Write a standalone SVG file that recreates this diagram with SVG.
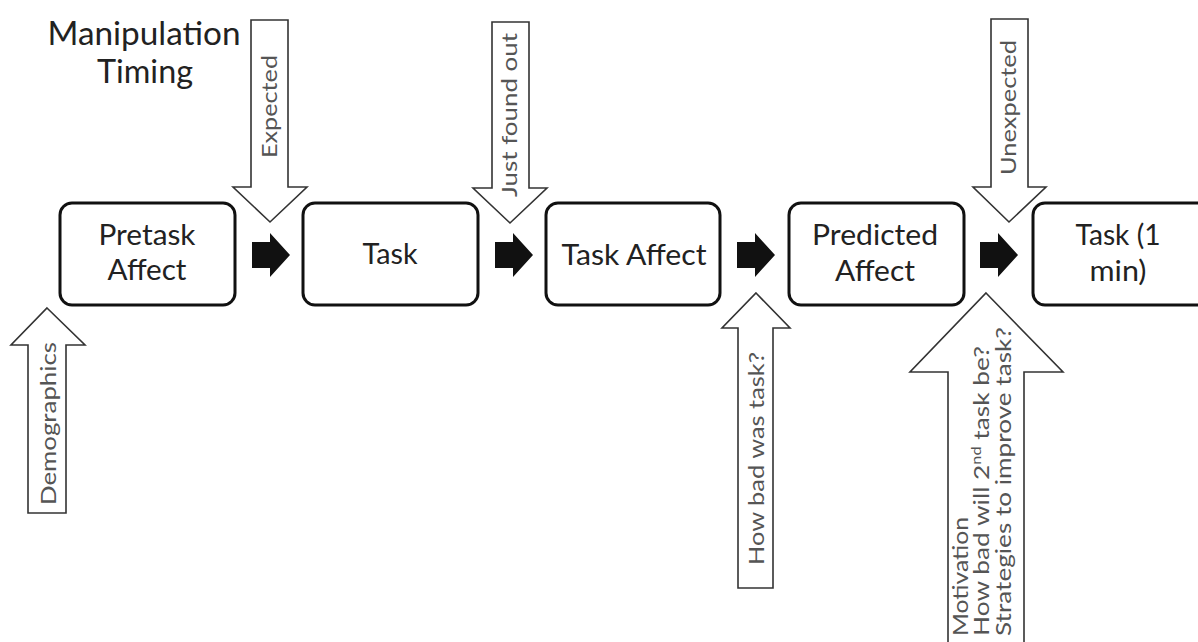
<svg xmlns="http://www.w3.org/2000/svg" width="1198" height="642" viewBox="0 0 1198 642">
<style>
.box{fill:#fff;stroke:#111;stroke-width:3}
.bt{font-family:Lato,"Liberation Sans",sans-serif;font-size:28px;fill:#222;text-anchor:middle}
.oa{fill:#fff;stroke:#333;stroke-width:1.6;stroke-linejoin:miter}
.ot{font-family:Lato,"Liberation Sans",sans-serif;font-size:21px;fill:#555}
.ba{fill:#111}
.title{font-family:Lato,"Liberation Sans",sans-serif;font-size:32px;fill:#222;text-anchor:middle}
</style>
<defs>
<path id="blk" d="M0,-13 H18 V-22 L38,0 L18,22 V13 H0 Z"/>
</defs>
<rect width="1198" height="642" fill="#fff"/>
<g id="title">
<text class="title" x="144" y="45" textLength="193" lengthAdjust="spacingAndGlyphs">Manipulation</text>
<text class="title" x="145" y="83" textLength="96" lengthAdjust="spacingAndGlyphs">Timing</text>
</g>
<g id="connectors">
<use href="#blk" class="ba" x="252" y="255"/>
<use href="#blk" class="ba" x="495" y="255"/>
<use href="#blk" class="ba" x="737" y="255"/>
<use href="#blk" class="ba" x="980" y="255"/>
</g>
<g id="n-pretask">
<rect class="box" x="60" y="203" width="175" height="102" rx="12"/>
<text class="bt" x="147" y="245" textLength="97" lengthAdjust="spacingAndGlyphs">Pretask</text>
<text class="bt" x="147" y="280" textLength="79" lengthAdjust="spacingAndGlyphs">Affect</text>
</g>
<g id="n-task">
<rect class="box" x="303" y="203" width="175" height="102" rx="12"/>
<text class="bt" x="390" y="264" textLength="55" lengthAdjust="spacingAndGlyphs">Task</text>
</g>
<g id="n-taskaffect">
<rect class="box" x="546" y="203" width="174" height="102" rx="12"/>
<text class="bt" x="634" y="265" textLength="145" lengthAdjust="spacingAndGlyphs">Task Affect</text>
</g>
<g id="n-predicted">
<rect class="box" x="789" y="203" width="175" height="102" rx="12"/>
<text class="bt" x="875" y="245" textLength="126" lengthAdjust="spacingAndGlyphs">Predicted</text>
<text class="bt" x="875" y="281" textLength="80" lengthAdjust="spacingAndGlyphs">Affect</text>
</g>
<g id="n-task1min">
<rect class="box" x="1033" y="203" width="190" height="102" rx="12"/>
<text class="bt" x="1118" y="245" textLength="85" lengthAdjust="spacingAndGlyphs">Task (1</text>
<text class="bt" x="1118" y="281" textLength="57" lengthAdjust="spacingAndGlyphs">min)</text>
</g>
<g id="m-expected">
<polygon class="oa" points="251,20 288,20 288,187 307,187 270,222 233,187 251,187"/>
<text class="ot" transform="translate(277,158) rotate(-90)" textLength="103" lengthAdjust="spacingAndGlyphs">Expected</text>
</g>
<g id="m-justfound">
<polygon class="oa" points="492,22 529,22 529,188 547,188 510,223 473,188 492,188"/>
<text class="ot" transform="translate(517,197) rotate(-90)" textLength="164" lengthAdjust="spacingAndGlyphs">Just found out</text>
</g>
<g id="m-unexpected">
<polygon class="oa" points="991,19 1028,19 1028,187 1046,187 1009,222 973,187 991,187"/>
<text class="ot" transform="translate(1016,175) rotate(-90)" textLength="135" lengthAdjust="spacingAndGlyphs">Unexpected</text>
</g>
<g id="m-demographics">
<polygon class="oa" points="47,308 85,345 66,345 66,513 28,513 28,345 11,345"/>
<text class="ot" transform="translate(56,505) rotate(-90)" textLength="163" lengthAdjust="spacingAndGlyphs">Demographics</text>
</g>
<g id="m-howbad">
<polygon class="oa" points="756,293 790,328 773,328 773,588 738,588 738,328 722,328"/>
<text class="ot" transform="translate(764,565) rotate(-90)" textLength="213" lengthAdjust="spacingAndGlyphs">How bad was task?</text>
</g>
<g id="m-motivation">
<polygon class="oa" points="986,293 1063,372 1024,372 1024,650 948,650 948,372 910,372"/>
<text class="ot" transform="translate(968,636) rotate(-90)" textLength="119" lengthAdjust="spacingAndGlyphs">Motivation</text>
<text class="ot" transform="translate(989,636) rotate(-90)" textLength="290" lengthAdjust="spacingAndGlyphs">How bad will 2<tspan font-size="13" dy="-8">nd</tspan><tspan dy="8"> task be?</tspan></text>
<text class="ot" transform="translate(1011,636) rotate(-90)" textLength="309" lengthAdjust="spacingAndGlyphs">Strategies to improve task?</text>
</g>
</svg>
